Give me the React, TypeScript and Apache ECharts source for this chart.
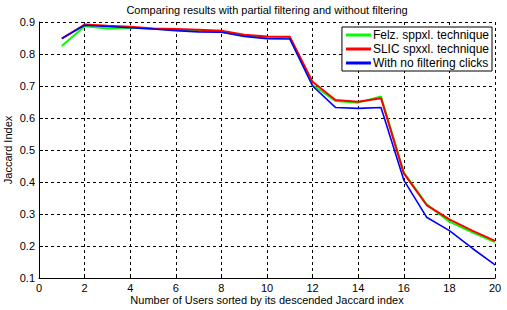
import React, { useEffect, useRef } from "react";
import * as echarts from "echarts";

const users = [1, 2, 3, 4, 5, 6, 7, 8, 9, 10, 11, 12, 13, 14, 15, 16, 17, 18, 19, 20];
const felz = [0.825, 0.887, 0.88, 0.882, 0.879, 0.876, 0.873, 0.87, 0.857, 0.852, 0.85, 0.703, 0.653, 0.648, 0.667, 0.43, 0.33, 0.276, 0.243, 0.212];
const slic = [0.848, 0.892, 0.888, 0.885, 0.88, 0.878, 0.876, 0.873, 0.86, 0.855, 0.854, 0.713, 0.656, 0.651, 0.662, 0.427, 0.328, 0.283, 0.248, 0.216];
const nofilter = [0.849, 0.89, 0.886, 0.882, 0.878, 0.873, 0.869, 0.868, 0.855, 0.848, 0.847, 0.7, 0.633, 0.63, 0.633, 0.406, 0.29, 0.248, 0.193, 0.141];
const seriesNames = ["Felz. sppxl. technique", "SLIC spxxl. technique", "With no filtering clicks"];
const titleText = "Comparing results with partial filtering and without filtering";
const xName = "Number of Users sorted by its descended Jaccard index";
const yName = "Jaccard Index";

const FONT = "Liberation Sans, Arial, sans-serif";

export default function App() {
  const ref = useRef<HTMLDivElement>(null);
  useEffect(() => {
    document.body.style.margin = "0";
    const chart = echarts.init(ref.current!, undefined, { renderer: "svg" });
    const mk = (vals: number[]) => users.map((u, i) => [u, vals[i]]);
    chart.setOption({
      animation: false,
      backgroundColor: "#fff",
      textStyle: { fontFamily: FONT },
      grid: { left: 39, right: 12, top: 22, bottom: 32, containLabel: false, outerBoundsMode: "none" },
      graphic: [
        {
          type: "text",
          x: 267,
          y: 10,
          style: {
            text: titleText,
            fill: "#000",
            font: `11px ${FONT}`,
            textAlign: "center",
            textVerticalAlign: "middle",
          },
        },
      ],
      legend: {
        orient: "vertical",
        right: 15,
        top: 27,
        backgroundColor: "#fff",
        borderColor: "#000",
        borderWidth: 1,
        borderRadius: 0,
        padding: [2, 3, 2, 4],
        itemGap: 2,
        itemWidth: 25,
        itemHeight: 3,
        icon: "rect",
        textStyle: { fontSize: 12, color: "#000", fontFamily: FONT, padding: [0, 0, 0, -3] },
        data: seriesNames,
      },
      xAxis: {
        type: "value",
        min: 0,
        max: 20,
        interval: 2,
        name: xName,
        nameLocation: "middle",
        nameGap: 16,
        nameMoveOverlap: false,
        nameTextStyle: { fontSize: 11, color: "#000", fontFamily: FONT },
        axisLine: { show: true, onZero: false, lineStyle: { color: "#000", width: 1 } },
        axisTick: { show: true, inside: true, length: 4, lineStyle: { color: "#000" } },
        axisLabel: { fontSize: 11, color: "#000", margin: 4, fontFamily: FONT },
        splitLine: { show: true, lineStyle: { color: "#000", width: 1, type: [3, 3] } },
      },
      yAxis: {
        type: "value",
        min: 0.1,
        max: 0.9,
        interval: 0.1,
        name: yName,
        nameLocation: "middle",
        nameGap: 26,
        nameMoveOverlap: false,
        nameTextStyle: { fontSize: 11, color: "#000", fontFamily: FONT },
        axisLine: { show: true, onZero: false, lineStyle: { color: "#000", width: 1 } },
        axisTick: { show: true, inside: true, length: 4, lineStyle: { color: "#000" } },
        axisLabel: {
          fontSize: 11,
          color: "#000",
          margin: 4,
          fontFamily: FONT,
          formatter: (v: number) => v.toFixed(1),
        },
        splitLine: { show: true, lineStyle: { color: "#000", width: 1, type: [3, 3] } },
      },
      series: [
        {
          name: seriesNames[0],
          type: "line",
          data: mk(felz),
          symbol: "none",
          color: "#00ff00",
          lineStyle: { color: "#00ff00", width: 2 },
          z: 2,
        },
        {
          name: seriesNames[1],
          type: "line",
          data: mk(slic),
          symbol: "none",
          color: "#ff0000",
          lineStyle: { color: "#ff0000", width: 2 },
          z: 3,
        },
        {
          name: seriesNames[2],
          type: "line",
          data: mk(nofilter),
          symbol: "none",
          color: "#0000ff",
          lineStyle: { color: "#0000ff", width: 1.6 },
          z: 4,
        },
      ],
    });
    return () => chart.dispose();
  }, []);
  return <div ref={ref} style={{ width: 507, height: 310 }} />;
}
